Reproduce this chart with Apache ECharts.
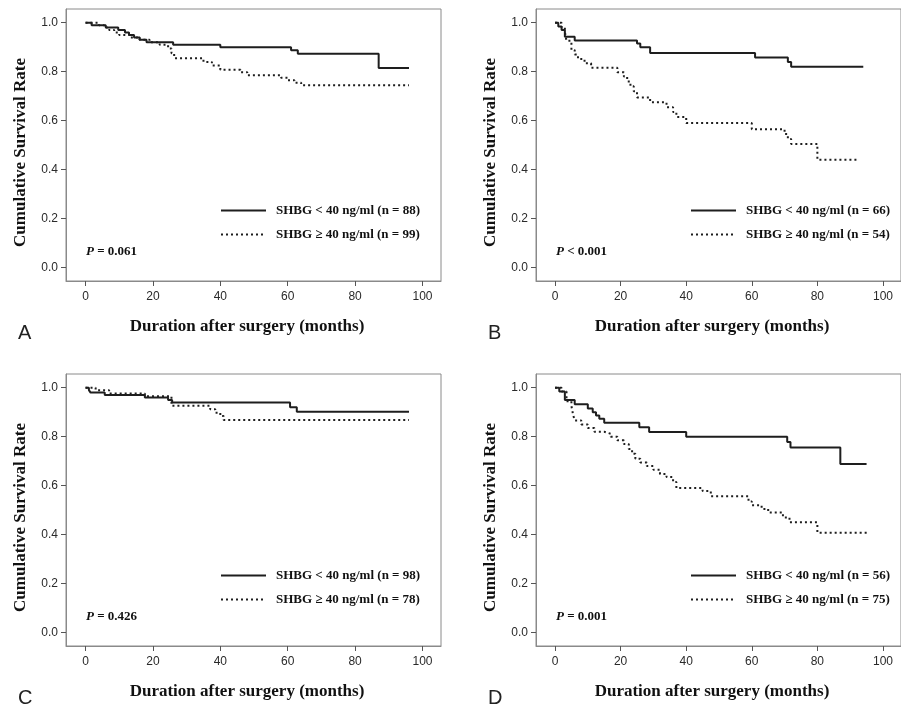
<!DOCTYPE html>
<html>
<head>
<meta charset="utf-8">
<script src="https://cdn.jsdelivr.net/npm/echarts@6/dist/echarts.min.js"></script>
</head>
<body style="margin:0;background:#fff;">
<div id="main" style="width:901px;height:705px;"></div>
<script>
// tick labels
var xTicks = [0, 20, 40, 60, 80, 100];
var yTicks = [0, 0.2, 0.4, 0.6, 0.8, 1.0];

// Kaplan-Meier curves [months, survival]
var aLow = [[0,1],[1.8,0.99],[6,0.98],[9.7,0.97],[11.7,0.96],[12.9,0.95],[14.4,0.94],[16.1,0.93],[18.1,0.92],[26,0.91],[40,0.9],[61,0.888],[63,0.873],[87,0.815],[96,0.815]];
var aHigh = [[0,1],[4,0.99],[5.5,0.98],[7,0.97],[8.5,0.96],[10,0.95],[13,0.94],[16,0.93],[19,0.92],[22,0.91],[24.5,0.895],[25.5,0.875],[26.3,0.855],[35,0.84],[37.5,0.825],[40,0.808],[46,0.798],[48,0.785],[58,0.775],[60,0.765],[62,0.755],[64,0.745],[96,0.745]];
var bLow = [[0,1],[1,0.985],[2,0.97],[3,0.943],[6,0.927],[25,0.915],[26,0.9],[29,0.876],[61,0.858],[71,0.84],[72,0.82],[94,0.82]];
var bHigh = [[0,1],[2,0.98],[3,0.963],[3.5,0.926],[5,0.889],[6,0.87],[7,0.852],[9,0.834],[11,0.816],[19,0.798],[21,0.78],[22,0.76],[23,0.74],[24,0.72],[25,0.695],[29,0.675],[34,0.655],[36,0.635],[37,0.615],[40,0.59],[60,0.565],[70,0.545],[71,0.525],[72,0.505],[80,0.44],[92,0.44]];
var cLow = [[0,1],[1,0.99],[1.5,0.98],[5.7,0.97],[17.6,0.96],[24.5,0.95],[25.7,0.94],[60.7,0.92],[62.7,0.902],[96,0.902]];
var cHigh = [[0,1],[3,0.99],[7,0.976],[17.6,0.965],[25.5,0.926],[37,0.912],[38.5,0.898],[40,0.884],[41,0.868],[96,0.868]];
var dLow = [[0,1],[1.3,0.985],[3,0.95],[6,0.932],[10,0.915],[11.5,0.9],[12.5,0.887],[13.5,0.873],[15,0.857],[25.7,0.838],[28.7,0.819],[40,0.8],[70.8,0.778],[71.8,0.756],[87,0.688],[95,0.688]];
var dHigh = [[0,1],[2,0.985],[3.5,0.945],[5,0.925],[5.5,0.89],[6,0.866],[8,0.85],[10,0.835],[12,0.82],[15,0.812],[17,0.8],[19,0.785],[21,0.77],[22.5,0.75],[23.5,0.73],[24.5,0.71],[26,0.695],[28,0.68],[30,0.665],[32,0.648],[34,0.635],[36,0.615],[37,0.59],[45,0.578],[47.5,0.557],[59,0.535],[60,0.52],[63,0.505],[65,0.49],[69.5,0.47],[71.5,0.45],[80,0.408],[95.5,0.408]];

var lowNames = ['SHBG < 40 ng/ml (n = 88)', 'SHBG < 40 ng/ml (n = 66)', 'SHBG < 40 ng/ml (n = 98)', 'SHBG < 40 ng/ml (n = 56)'];
var highNames = ['SHBG \u2265 40 ng/ml (n = 99)', 'SHBG \u2265 40 ng/ml (n = 54)', 'SHBG \u2265 40 ng/ml (n = 78)', 'SHBG \u2265 40 ng/ml (n = 75)'];
var pRel = ['=', '<', '=', '='];
var pVals = ['0.061', '0.001', '0.426', '0.001'];
var letters = ['A', 'B', 'C', 'D'];

var lows = [aLow, bLow, cLow, dLow];
var highs = [aHigh, bHigh, cHigh, dHigh];

var chart = echarts.init(document.getElementById('main'));

var serif = 'Liberation Serif';
var sans = 'Liberation Sans';
var ink = '#1e1e1e';

var boxes = [
    {left: 66, top: 9},
    {left: 536, top: 9},
    {left: 66, top: 374},
    {left: 536, top: 374}
];

var grids = [], xAxes = [], yAxes = [], series = [], legends = [], graphics = [];

for (var i = 0; i < 4; i++) {
    var b = boxes[i];
    grids.push({
        left: b.left, top: b.top, width: 375, height: 272,
        show: true, borderColor: '#8a8a8a', borderWidth: 1, backgroundColor: '#fff'
    });
    xAxes.push({
        gridIndex: i, type: 'value', min: -5.8, max: 105.5,
        name: 'Duration after surgery (months)', nameLocation: 'middle', nameGap: 37,
        nameTextStyle: {fontFamily: serif, fontWeight: 'bold', fontSize: 17, color: '#111', padding: [0, 13, 0, 0]},
        axisLine: {onZero: false, lineStyle: {color: '#8a8a8a'}},
        axisTick: {length: 5, customValues: xTicks, lineStyle: {color: '#555'}},
        axisLabel: {customValues: xTicks, margin: 10, fontFamily: sans, fontSize: 12, color: '#2a2a2a'},
        splitLine: {show: false}
    });
    yAxes.push({
        gridIndex: i, type: 'value', min: -0.055, max: 1.056,
        name: 'Cumulative Survival Rate', nameLocation: 'middle', nameGap: 37,
        nameTextStyle: {fontFamily: serif, fontWeight: 'bold', fontSize: 17, color: '#111', padding: [0, 15, 0, 0]},
        axisLine: {show: true, onZero: false, lineStyle: {color: '#8a8a8a'}},
        axisTick: {show: true, length: 5, customValues: yTicks, lineStyle: {color: '#555'}},
        axisLabel: {customValues: yTicks, margin: 8, fontFamily: sans, fontSize: 12, color: '#2a2a2a',
            formatter: function (v) { return v.toFixed(1); }},
        splitLine: {show: false}
    });
    series.push({
        name: lowNames[i], type: 'line', step: 'end', xAxisIndex: i, yAxisIndex: i,
        data: lows[i], symbol: 'none', animation: false,
        lineStyle: {color: ink, width: 2}, itemStyle: {color: ink}
    });
    series.push({
        name: highNames[i], type: 'line', step: 'end', xAxisIndex: i, yAxisIndex: i,
        data: highs[i], symbol: 'none', animation: false,
        lineStyle: {color: ink, width: 2, type: [2, 3]}, itemStyle: {color: ink}
    });
    legends.push({
        left: b.left + 154, top: b.top + 195, orient: 'vertical', padding: 0,
        itemWidth: 45, itemHeight: 12, itemGap: 11,
        data: [lowNames[i], highNames[i]],
        selectedMode: false,
        itemStyle: {opacity: 0},
        textStyle: {fontFamily: serif, fontWeight: 'bold', fontSize: 13, color: '#111', padding: [0, 0, 0, 5]}
    });
    graphics.push({
        type: 'text', x: b.left + 20, y: b.top + 243,
        style: {
            text: '{i|P} ' + pRel[i] + ' ' + pVals[i],
            fontFamily: serif, fontWeight: 'bold', fontSize: 13, fill: '#111',
            verticalAlign: 'middle',
            rich: {i: {fontFamily: serif, fontWeight: 'bold', fontStyle: 'italic', fontSize: 13, color: '#111'}}
        }
    });
    graphics.push({
        type: 'text', x: b.left - 48, y: b.top + 324,
        style: {text: letters[i], fontFamily: sans, fontSize: 20, fill: '#222', verticalAlign: 'middle'}
    });
}

chart.setOption({
    backgroundColor: '#fff',
    animation: false,
    grid: grids,
    xAxis: xAxes,
    yAxis: yAxes,
    legend: legends,
    series: series,
    graphic: graphics
});
</script>
</body>
</html>
